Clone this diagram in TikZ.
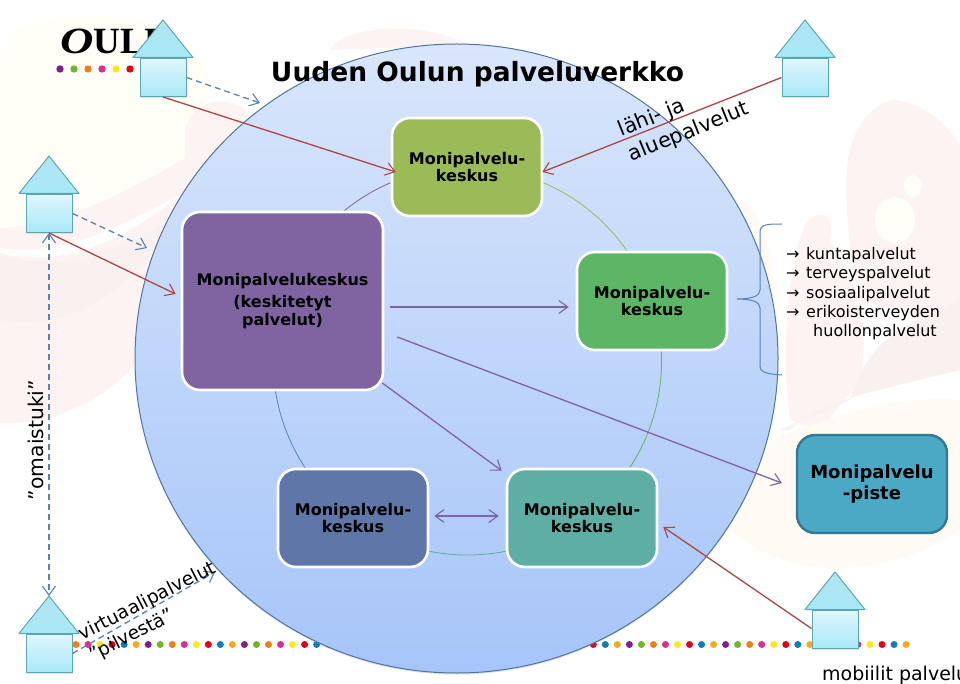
\documentclass[tikz,border=0pt]{standalone}
\usepackage{fontspec}
\setmainfont{DejaVu Sans}
\newfontfamily\logofont{Liberation Serif}
\usetikzlibrary{arrows.meta,calc,positioning,shapes.geometric,shadows}
\pgfdeclarelayer{bg}\pgfdeclarelayer{mid}
\pgfsetlayers{bg,mid,main}
\newcommand{\fsz}[1]{\fontsize{#1}{#1}\selectfont}
\definecolor{redline}{HTML}{AD4644}
\definecolor{dashline}{HTML}{5683B4}
\definecolor{purpline}{HTML}{7F63A3}
\definecolor{houseedge}{HTML}{5CA5B5}
\definecolor{houseTop}{HTML}{DFF6FE}
\definecolor{houseBot}{HTML}{A8E8F6}
\definecolor{roofTop}{HTML}{B2E4F1}
\definecolor{circTop}{HTML}{D9E6FB}
\definecolor{circBot}{HTML}{A6C5F9}
\definecolor{circedge}{HTML}{4F76A0}
\definecolor{boxA}{HTML}{9BBB59}
\definecolor{boxB}{HTML}{5DB566}
\definecolor{boxP}{HTML}{8064A2}
\definecolor{boxD}{HTML}{5E76A8}
\definecolor{boxE}{HTML}{5FAEA5}
\definecolor{boxS}{HTML}{4BA9C6}
\definecolor{boxSedge}{HTML}{33788F}
\definecolor{washPink}{HTML}{FDF3F2}
\definecolor{washGrey}{HTML}{F9F0F0}
\definecolor{washYellow}{HTML}{FFFEF7}
\definecolor{washPeach}{HTML}{FFFAF3}
\tikzset{
  barbtip/.tip={Straight Barb[length=9pt,width=13pt,line width=1.1pt]},
  redarrow/.style={draw=redline,line width=1.3pt,-barbtip},
  dasharrow/.style={draw=dashline,line width=1.3pt,dash pattern=on 6pt off 4pt,-barbtip},
  purparrow/.style={draw=purpline,line width=1.3pt,-barbtip},
  mbox/.style={draw=white,line width=2.6pt,rounded corners=18pt,minimum width=150pt,minimum height=98pt,
    align=center,font=\bfseries\fsz{16},text=black,inner sep=0pt},
  ring/.style={line width=0.8pt,looseness=0.94},
  caption/.style={align=left,text=black,inner sep=0pt},
  listitem/.style={font=\fsz{16},text=black,anchor=west,inner sep=0pt},
}
\newcommand{\house}[3]{%
  \node[draw=houseedge,line width=1pt,top color=houseTop,bottom color=houseBot,minimum width=46pt,minimum height=38pt,inner sep=0pt,drop shadow={opacity=0.2,shadow xshift=0.5pt,shadow yshift=-1.5pt}] (#1) at (#2,#3+57.5) {};
  \coordinate (#1-apex) at (#2,#3);
  \draw[houseedge,line width=1pt,top color=roofTop,bottom color=houseBot,line join=round]
    (#1-apex) -- (#2+30,#3+37.5) -- (#2-30,#3+37.5) -- cycle;
}
\begin{document}
\begin{tikzpicture}[x=1pt,y=-1pt]
\useasboundingbox (0,0) rectangle (960,684);
\begin{pgfonlayer}{bg}
  \fill[white] (0,0) rectangle (960,684);
  % pale background washes
  \fill[washYellow] (15,30) .. controls (110,-5) and (240,20) .. (200,130) .. controls (170,200) and (70,240) .. (0,250) -- (0,60) -- cycle;
  \fill[washPink] (0,228) .. controls (80,225) and (170,170) .. (260,110) .. controls (250,200) and (190,300) .. (130,370) .. controls (90,410) and (40,425) .. (0,423) -- cycle;
  \fill[white] (0,248) .. controls (70,258) and (130,220) .. (180,195) .. controls (130,235) and (70,270) .. (0,253) -- cycle;
  \fill[washGrey] (0,255) .. controls (60,275) and (120,250) .. (170,220) .. controls (140,290) and (60,335) .. (0,320) -- cycle;
  \fill[washPink] (185,130) .. controls (195,95) and (240,90) .. (255,125) .. controls (250,170) and (215,190) .. (185,215) -- cycle;
  \fill[washPink] (330,50) .. controls (345,25) and (420,20) .. (470,45) -- cycle;
  \fill[washPeach] (740,200) .. controls (780,215) and (780,330) .. (770,430) -- (730,430) -- cycle;
  \fill[washPink] (847,170) .. controls (850,120) and (880,100) .. (895,100) .. controls (930,105) and (950,130) .. (960,145) -- (960,330) .. controls (940,320) and (900,310) .. (860,300) .. controls (850,260) and (845,210) .. (847,170) -- cycle;
  \fill[washPink] (790,420) .. controls (780,340) and (790,260) .. (805,225) .. controls (820,205) and (835,215) .. (830,240) .. controls (860,290) and (870,320) .. (860,380) -- (820,430) -- cycle;
  \fill[washGrey] (790,430) .. controls (820,400) and (880,390) .. (960,370) -- (960,300) .. controls (920,320) and (870,330) .. (850,400) -- (780,430) -- cycle;
  \fill[washPeach] (770,440) .. controls (850,410) and (900,395) .. (960,400) -- (960,530) .. controls (900,570) and (800,590) .. (730,530) -- cycle;
  \fill[washYellow] (895,220) ellipse [x radius=20pt,y radius=23pt];
  \fill[washYellow] (913,186) ellipse [x radius=9pt,y radius=11pt];
  % dotted rows
  \foreach \i [evaluate=\i as \cx using {76+12.03*\i}, evaluate=\i as \ci using {int(mod(\i,8))}] in {0,...,69}{
    \ifcase\ci\def\dc{EE7F1A}\or\def\dc{DE2E8C}\or\def\dc{FFE814}\or\def\dc{E2001A}\or\def\dc{0F7DB8}\or\def\dc{F7A917}\or\def\dc{7F1F8F}\else\def\dc{72B52B}\fi
    \definecolor{dotc}{HTML}{\dc}
    \fill[dotc] (\cx,644.5) circle (3.5pt);
  }
  \foreach \cx/\dc in {60/7F1F8F,74/72B52B,88/EE7F1A,102/DE2E8C,116/FFE814,130/E2001A}{
    \definecolor{dotc}{HTML}{\dc}
    \fill[dotc] (\cx,69) circle (3.7pt);
  }
  \node[anchor=west,inner sep=0pt,font=\logofont\bfseries\fsz{37}] (logo) at (60,41) {\scalebox{1.25}[1]{\itshape O}ULU};
  % big ellipse
  \node[ellipse,draw=circedge,line width=1pt,top color=circTop,bottom color=circBot,minimum width=643pt,minimum height=629pt,inner sep=0pt,drop shadow={opacity=0.25,shadow xshift=0pt,shadow yshift=-1.5pt}] (bigcircle) at (456.5,358.5) {};
\end{pgfonlayer}

% boxes
\node[mbox,fill=boxA] (A) at (467,167) {Monipalvelu-\\[1pt]keskus};
\node[mbox,fill=boxB] (B) at (652,301) {Monipalvelu-\\[1pt]keskus};
\node[mbox,fill=boxP,minimum width=201pt,minimum height=178pt] (P) at (282.5,301) {\rule{0pt}{2pt}Monipalvelukeskus\\[6pt](keskitetyt\\[2pt]palvelut)};
\node[mbox,fill=boxD] (D) at (353,518) {Monipalvelu-\\[1pt]keskus};
\node[mbox,fill=boxE] (E) at (582,518) {Monipalvelu-\\[1pt]keskus};
\node[mbox,fill=boxS,draw=boxSedge,line width=2.4pt,font=\bfseries\fsz{18}] (S) at (872,484) {Monipalvelu\\[3pt]-piste};

% ring
\begin{pgfonlayer}{mid}
  \draw[ring,draw=purpline] (P.center) to[bend left=36] (A.center);
  \draw[ring,draw=boxA] (A.center) to[bend left=36] (B.center);
  \draw[ring,draw=boxB] (B.center) to[bend left=36] (E.center);
  \draw[ring,draw=boxE] (E.center) to[bend left=36] (D.center);
  \draw[ring,draw=dashline] (D.center) to[bend left=36] (P.center);
\end{pgfonlayer}

% houses
\house{H1}{163}{20}
\house{H2}{805}{20}
\house{H3}{49}{156}
\house{H4}{49}{596}
\house{H5}{835}{572}

% connectors
\draw[redarrow] (H1.south) -- ([shift={(5,5)}]A.west);
\draw[redarrow] (H2.west) -- ([shift={(-1,5)}]A.east);
\draw[redarrow] (H3.south) -- ([shift={(-5,-7)}]P.west);
\draw[redarrow] ([shift={(0,-1)}]H5.west) -- ([shift={(5,9)}]E.east);
\coordinate (H1end) at (260,103);
\coordinate (H3end) at (147,248);
\coordinate (H4end) at (215,572);
\draw[dasharrow] (H1.east) -- (H1end);
\draw[dasharrow] (H3.east) -- (H3end);
\draw[dasharrow] (H4.east) -- (H4end);
\draw[dasharrow,barbtip-barbtip] (H3.south) -- (H4-apex);
\draw[purparrow] ([shift={(6,6)}]P.east) -- ([shift={(-7,6)}]B.west);
\draw[purparrow] ([shift={(13,36)}]P.east) -- ([shift={(-14,-1)}]S.west);
\draw[purparrow] ([shift={(-2,82)}]P.east) -- ([shift={(-4,3)}]E.north west);
\draw[purparrow,barbtip-barbtip] ([shift={(5,-2)}]D.east) -- ([shift={(-7,-2)}]E.west);

% brace
\coordinate (brTop) at (782,224);
\coordinate (brBot) at (782,375);
\coordinate (brTip) at (737,299);
\draw[draw=dashline,line width=1pt] (brTop) .. controls (768,224) and (760,224) .. (760,232) -- (760,290)
  .. controls (760,296) and (752,299) .. (brTip) .. controls (752,299) and (760,302) .. (760,308) -- (760,366)
  .. controls (760,373) and (768,374) .. (brBot);

% texts
\node[inner sep=0pt,font=\bfseries\fsz{26.5}] (title) at (477.5,74) {Uuden Oulun palveluverkko};
\node[caption,rotate=22,font=\fsz{20.7}] (lahi) at (684,120) {lähi- ja\\[6pt]aluepalvelut};
\node[caption,rotate=27,font=\fsz{18.6}] (virt) at (153,612) {virtuaalipalvelut\\[5pt]”pilvestä”};
\node[caption,rotate=90,font=\fsz{20.3}] (oma) at (36,440) {”omaistuki”};
\node[listitem] (l1) at (786,255.5) {→\hspace{6.6pt}kuntapalvelut};
\node[listitem] (l2) at (786,274.5) {→\hspace{6.6pt}terveyspalvelut};
\node[listitem] (l3) at (786,294) {→\hspace{6.6pt}sosiaalipalvelut};
\node[listitem] (l4) at (786,313.5) {→\hspace{6.6pt}erikoisterveyden};
\node[listitem] (l5) at (813,332.5) {huollonpalvelut};
\node[anchor=west,inner sep=0pt,font=\fsz{19}] (mob) at (822,675) {mobiilit palvelut};
\end{tikzpicture}
\end{document}
